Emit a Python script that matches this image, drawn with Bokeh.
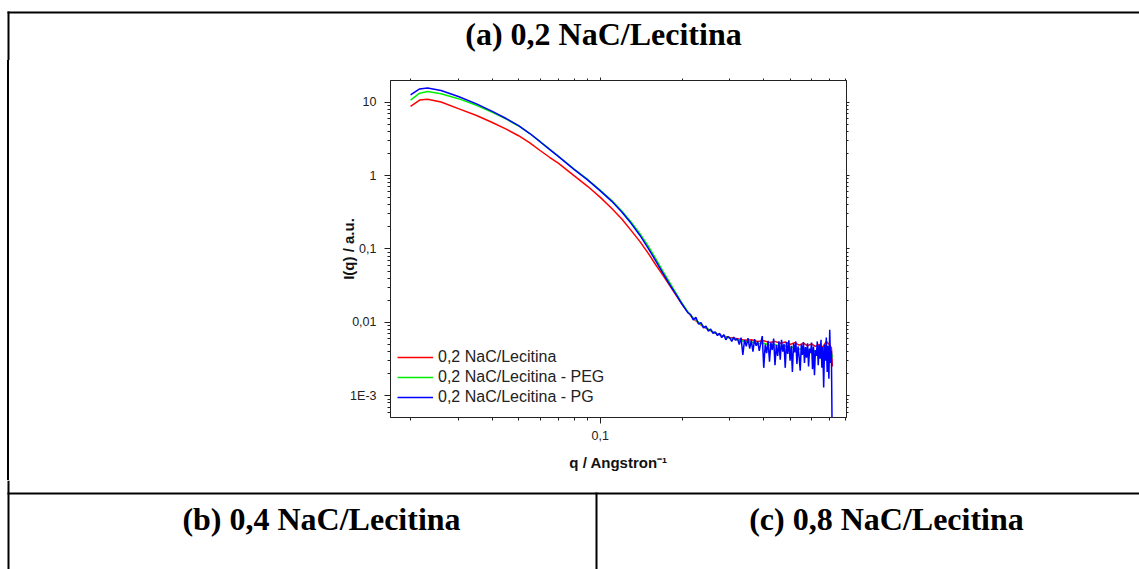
import math
from bokeh.plotting import figure
from bokeh.layouts import column, row
from bokeh.models import (FixedTicker, LogAxis, Legend, LegendItem, Range1d, CustomJSTickFormatter, Div)
from bokeh.core.properties import value
from bokeh.embed import file_html
from bokeh.resources import INLINE

# ---------------- data ----------------
q_low = [0.020, 0.0216, 0.0231, 0.0259, 0.030, 0.035, 0.040, 0.045, 0.050, 0.055, 0.060,
         0.065, 0.070, 0.080, 0.090, 0.100, 0.110, 0.120, 0.130, 0.140, 0.150, 0.160,
         0.170, 0.180, 0.190, 0.200, 0.210]
red_low = [8.8, 10.7, 11.0, 10.1, 8.2, 6.6, 5.3, 4.3, 3.5, 2.8, 2.2,
           1.78, 1.48, 1.0, 0.71, 0.505, 0.36, 0.256, 0.178, 0.126, 0.088, 0.061,
           0.044, 0.032, 0.0235, 0.0176, 0.0138]
green_low = [10.7, 13.3, 14.0, 13.1, 11.2, 9.1, 7.3, 5.9, 4.75, 3.75, 2.9,
             2.3, 1.85, 1.23, 0.88, 0.63, 0.46, 0.33, 0.232, 0.162, 0.110, 0.074,
             0.050, 0.035, 0.025, 0.0182, 0.0140]
blue_low = [12.6, 15.2, 15.7, 14.5, 12.0, 9.5, 7.5, 6.0, 4.8, 3.75, 2.9,
            2.28, 1.83, 1.22, 0.87, 0.62, 0.45, 0.32, 0.222, 0.153, 0.103, 0.069,
            0.047, 0.033, 0.024, 0.0178, 0.0136]

q_high = [0.22, 0.24, 0.26, 0.28, 0.30, 0.32, 0.34, 0.36, 0.38, 0.40, 0.42, 0.44, 0.46,
          0.48, 0.50, 0.52, 0.54, 0.56, 0.58, 0.60, 0.62, 0.64, 0.66, 0.68, 0.70, 0.71, 0.716]
red_high = [0.0112, 0.0087, 0.0074, 0.0066, 0.0062, 0.0060, 0.0057, 0.0058, 0.0055, 0.0056,
            0.0053, 0.0055, 0.0052, 0.0054, 0.0050, 0.0053, 0.0049, 0.0052, 0.0048, 0.0051,
            0.0047, 0.0050, 0.0046, 0.0055, 0.0049, 0.0045, 0.0025]
green_high = [0.0115, 0.0088, 0.0074, 0.0066, 0.0061, 0.0058, 0.0055, 0.0054, 0.0051, 0.0052,
              0.0049, 0.0050, 0.0047, 0.0048, 0.0045, 0.0046, 0.0043, 0.0044, 0.0041, 0.0043,
              0.0040, 0.0042, 0.0039, 0.0041, 0.0040, 0.0038, 0.0033]

q_noise = [0.215, 0.220, 0.225, 0.230, 0.235, 0.240, 0.245, 0.250, 0.255, 0.260,
           0.265, 0.270, 0.275, 0.280, 0.285, 0.290, 0.295, 0.300, 0.305, 0.310,
           0.315, 0.320, 0.325, 0.330, 0.335, 0.340, 0.345, 0.350, 0.355, 0.360,
           0.365, 0.370, 0.375, 0.380, 0.385, 0.390, 0.395, 0.400, 0.405, 0.410,
           0.415, 0.420, 0.425, 0.430, 0.435, 0.440, 0.445, 0.450, 0.455, 0.460,
           0.465, 0.470, 0.475, 0.480, 0.485, 0.490, 0.495, 0.500, 0.505, 0.510,
           0.515, 0.520, 0.525, 0.530, 0.535, 0.540, 0.545, 0.550, 0.555, 0.560,
           0.565, 0.570, 0.575, 0.580, 0.585, 0.590, 0.595, 0.600, 0.605, 0.610,
           0.615, 0.620, 0.625, 0.630, 0.635, 0.640, 0.645, 0.650, 0.655, 0.660,
           0.665, 0.670, 0.675, 0.680, 0.685, 0.690, 0.695, 0.700, 0.705, 0.710,
           0.715]
blue_noise = [0.0128, 0.0108, 0.0117, 0.0095, 0.0099, 0.0084, 0.0089, 0.0076, 0.0081, 0.0071,
              0.0074, 0.0066, 0.0071, 0.0062, 0.0068, 0.0058, 0.0064, 0.0061, 0.0055, 0.0063,
              0.0057, 0.0060, 0.0050, 0.0062, 0.0036, 0.0058, 0.0047, 0.0061, 0.0044, 0.0057,
              0.0040, 0.0059, 0.0048, 0.0055, 0.0041, 0.0052, 0.0065, 0.0024, 0.0050, 0.0038,
              0.0056, 0.0029, 0.0053, 0.0042, 0.0060, 0.0026, 0.0049, 0.0035, 0.0055, 0.0031,
              0.0058, 0.0040, 0.0051, 0.0024, 0.0054, 0.0037, 0.0057, 0.0030, 0.0048, 0.0021,
              0.0052, 0.0039, 0.0055, 0.0027, 0.0047, 0.0034, 0.0022, 0.0050, 0.0036, 0.0054,
              0.0028, 0.0046, 0.0033, 0.0052, 0.0025, 0.0044, 0.0038, 0.0053, 0.0023, 0.0047,
              0.0019, 0.0042, 0.0035, 0.0055, 0.0026, 0.0049, 0.0032, 0.0058, 0.0024, 0.0046,
              0.0013, 0.0050, 0.0030, 0.0062, 0.0021, 0.0048, 0.0017, 0.0079, 0.0028, 0.0041,
              0.0002]

series_names = ["0,2 NaC/Lecitina", "0,2 NaC/Lecitina - PEG", "0,2 NaC/Lecitina - PG"]
series_colors = ["#ff0000", "#00ee00", "#0000ff"]

x_major = [0.1]
x_major_labels = ["0,1"]
y_major = [0.001, 0.01, 0.1, 1, 10]
y_major_labels = ["1E-3", "0,01", "0,1", "1", "10"]
x_minor = [m * 0.01 for m in range(2, 10)] + [m * 0.1 for m in range(2, 9)]
y_minor = [m * 10.0 ** e for e in range(-4, 2) for m in range(2, 10)]

cell_titles = ["(a) 0,2 NaC/Lecitina", "(b) 0,4 NaC/Lecitina", "(c) 0,8 NaC/Lecitina"]
x_label = "q / Angstron\u207b\u00b9"
y_label = "I(q) / a.u."

# ---------------- page geometry (pixels) ----------------
W, H = 1139, 569
CH_L, CH_R, CH_T, CH_B = 330, 870, 60, 480      # chart figure box on the page
FL, FR, FT, FB = 390, 846, 80, 417              # chart frame on the page
BORDER = 2
TOP_Y = 11          # top border line
LEFT_X = 7          # left border line
MID_Y = 492         # horizontal rule between cells
DIV_X = 595         # vertical divider between (b) and (c)
TITLE_POS = [(603, 33), (321, 518), (886, 518)]
TITLE_SIZE = "32px"


def piece(w, h):
    f = figure(width=w, height=h, x_range=Range1d(0, w), y_range=Range1d(h, 0),
               x_axis_location=None, y_axis_location=None,
               output_backend="svg", toolbar_location=None, min_border=0)
    f.grid.visible = False
    f.outline_line_color = None
    f.background_fill_color = "white"
    f.border_fill_color = "white"
    return f


def rect(f, x0, y0, x1, y1):
    f.quad(left=[x0], right=[x1], top=[y0], bottom=[y1], fill_color="black", line_color=None)


# top strip
top_fig = piece(W, CH_T)
rect(top_fig, LEFT_X, TOP_Y, W, TOP_Y + BORDER)
rect(top_fig, LEFT_X, TOP_Y, LEFT_X + BORDER, CH_T)
top_fig.text(x=[TITLE_POS[0][0]], y=[TITLE_POS[0][1]], text=[cell_titles[0]],
             text_font=value("Liberation Serif"), text_font_style="bold",
             text_font_size=TITLE_SIZE, text_align="center", text_baseline="middle",
             text_color="black")

# left strip beside the chart: only the table's left border line
mid_h = CH_B - CH_T
left_div = Div(width=CH_L, height=mid_h, margin=0,
               text=(f'<div style="position:relative;width:{CH_L}px;height:{mid_h}px;">'
                     f'<div style="position:absolute;left:{LEFT_X}px;top:0px;width:{BORDER}px;'
                     f'height:{mid_h}px;background:#000;"></div></div>'))

# bottom strip
bottom_fig = piece(W, H - CH_B)
bh = H - CH_B
rect(bottom_fig, LEFT_X, 0, LEFT_X + BORDER, bh)
rect(bottom_fig, LEFT_X, MID_Y - CH_B, W, MID_Y - CH_B + BORDER)
rect(bottom_fig, DIV_X, MID_Y - CH_B, DIV_X + BORDER, bh)
bottom_fig.text(x=[TITLE_POS[1][0], TITLE_POS[2][0]],
                y=[TITLE_POS[1][1] - CH_B, TITLE_POS[2][1] - CH_B],
                text=cell_titles[1:],
                text_font=value("Liberation Serif"), text_font_style="bold",
                text_font_size=TITLE_SIZE, text_align="center", text_baseline="middle",
                text_color="black")

# ---------------- chart ----------------
p = figure(width=CH_R - CH_L, height=CH_B - CH_T, x_axis_type="log", y_axis_type="log",
           x_range=Range1d(0.01687, 0.807), y_range=Range1d(5.05e-4, 19.8),
           output_backend="svg", toolbar_location=None,
           min_border_left=FL - CH_L, min_border_right=CH_R - FR,
           min_border_top=FT - CH_T, min_border_bottom=CH_B - FB)
p.grid.visible = False
p.outline_line_color = "#222222"
p.background_fill_color = "white"
p.border_fill_color = "white"

x_ticker = FixedTicker(ticks=x_major, minor_ticks=x_minor)
y_ticker = FixedTicker(ticks=y_major, minor_ticks=y_minor)
p.add_layout(LogAxis(), "above")
p.add_layout(LogAxis(), "right")

fmt_code = """
const lt = Math.log10(tick);
for (let i = 0; i < tvals.length; i++) {
  if (Math.abs(Math.log10(tvals[i]) - lt) < 1e-6) return tlabels[i];
}
return '';
"""
x_fmt = CustomJSTickFormatter(args=dict(tvals=x_major, tlabels=x_major_labels), code=fmt_code)
y_fmt = CustomJSTickFormatter(args=dict(tvals=y_major, tlabels=y_major_labels), code=fmt_code)
blank = CustomJSTickFormatter(code="return ''")


def style_axis(ax, ticker, fmt, standoff, tick_out, minor_out):
    ax.ticker = ticker
    ax.formatter = fmt
    ax.axis_line_color = "#222222"
    ax.major_tick_line_color = "#222222"
    ax.minor_tick_line_color = "#222222"
    ax.major_tick_in = 0
    ax.minor_tick_in = 0
    ax.major_tick_out = tick_out
    ax.minor_tick_out = minor_out
    ax.major_label_standoff = standoff
    ax.major_label_text_font = "Liberation Sans"
    ax.major_label_text_font_size = "12.5px"
    ax.major_label_text_color = "#222222"
    ax.axis_label_text_font = "Liberation Sans"
    ax.axis_label_text_font_style = "bold"
    ax.axis_label_text_font_size = "15px"
    ax.axis_label_text_color = "#111111"


style_axis(p.below[0], x_ticker, x_fmt, 7, 6, 3)
style_axis(p.left[0], y_ticker, y_fmt, 8, 6, 3)
style_axis(p.above[0], x_ticker, blank, 0, 3, 2)
style_axis(p.right[0], y_ticker, blank, 0, 3, 2)
p.below[0].axis_label = x_label
p.below[0].axis_label_standoff = 11
p.left[0].axis_label = y_label
p.left[0].axis_label_standoff = -10

r_red = p.line(q_low + q_high, red_low + red_high, line_color=series_colors[0], line_width=1.5)
r_green = p.line(q_low + q_high, green_low + green_high, line_color=series_colors[1], line_width=1.5)
r_blue = p.line(q_low + q_noise, blue_low + blue_noise, line_color=series_colors[2], line_width=1.5)

legend = Legend(items=[LegendItem(label=series_names[0], renderers=[r_red]),
                       LegendItem(label=series_names[1], renderers=[r_green]),
                       LegendItem(label=series_names[2], renderers=[r_blue])],
                location=(7, 10), orientation="vertical",
                glyph_width=36, glyph_height=20, label_height=20, spacing=0,
                padding=0, margin=0, label_standoff=5,
                border_line_alpha=0, background_fill_alpha=0,
                label_text_font="Liberation Sans", label_text_font_size="16px",
                label_text_color="#222222")
p.add_layout(legend)

layout = column(top_fig, row(left_div, p, spacing=0), bottom_fig, spacing=0)

open("out.html", "w").write(file_html(layout, INLINE))
